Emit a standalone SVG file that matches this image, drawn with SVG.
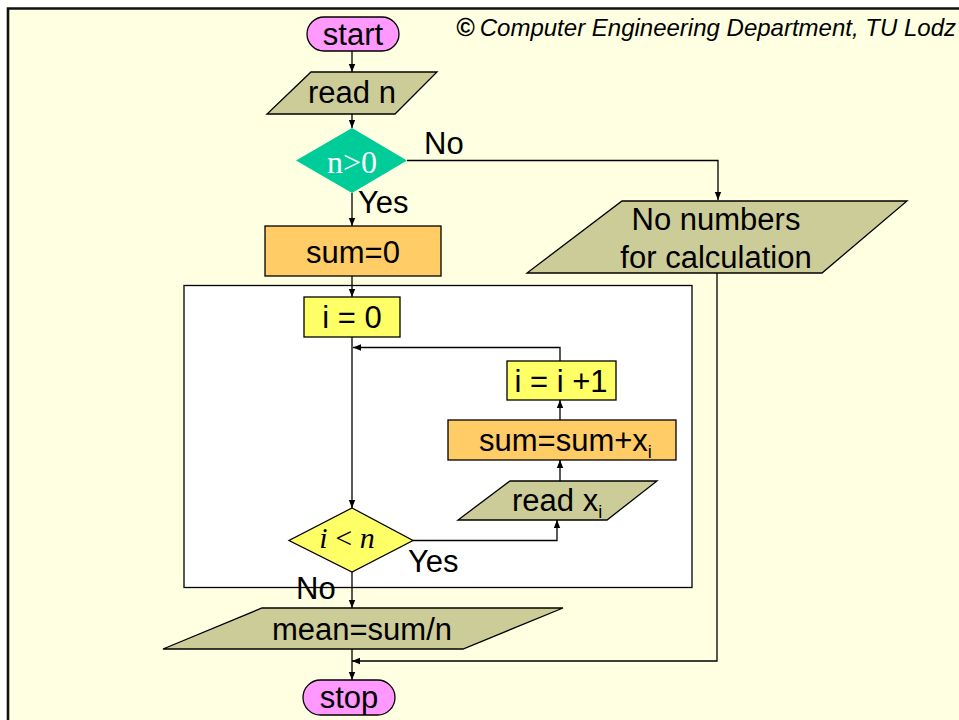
<svg xmlns="http://www.w3.org/2000/svg" width="959" height="720" viewBox="0 0 959 720">
  <defs>
    <marker id="arrow" markerUnits="userSpaceOnUse" markerWidth="9" markerHeight="8" refX="8" refY="4" orient="auto">
      <path d="M0,0.8 L8,4 L0,7.2 z" fill="#000"/>
    </marker>
    <style>
      .lbl { font-family: "Liberation Sans", Arial, sans-serif; font-size: 31px; fill: #000; }
      .mid { text-anchor: middle; }
      .math { font-family: "Liberation Serif", "Times New Roman", serif; }
      .io { fill: #CCCC99; stroke: #000; stroke-width: 1.3; }
      .proc { fill: #FFCC66; stroke: #000; stroke-width: 1.3; }
      .step { fill: #FFFF66; stroke: #000; stroke-width: 1.3; }
      .term { fill: #FF99FF; stroke: #000; stroke-width: 1.3; }
      .edge { fill: none; stroke: #000; stroke-width: 1.3; marker-end: url(#arrow); }
    </style>
  </defs>

  <!-- page background and frame -->
  <rect x="0" y="0" width="959" height="720" fill="#FFFFFF"/>
  <rect x="8" y="8.5" width="960" height="720" fill="#FFFFE1"/>
  <path d="M8,721 V8.5 H959" fill="none" stroke="#111" stroke-width="2.6"/>

  <!-- credit line -->
  <g id="credit">
    <text x="456" y="36" font-family="Liberation Sans, Arial, sans-serif" font-size="25" font-weight="bold" font-style="italic">©</text>
    <text x="956" y="36" text-anchor="end" font-family="Liberation Sans, Arial, sans-serif" font-size="24" font-style="italic">Computer Engineering Department, TU Lodz</text>
  </g>

  <!-- loop frame -->
  <g id="loop-frame">
    <rect x="184" y="285.5" width="508" height="302" fill="#FFFFFF" stroke="#000" stroke-width="1.3"/>
  </g>

  <!-- connectors -->
  <g id="connectors">
    <path class="edge" d="M352,51 V72"/>
    <path class="edge" d="M352,114 V128"/>
    <path class="edge" d="M352,193 V226"/>
    <path class="edge" d="M407,160.5 H718 V200"/>
    <path class="edge" d="M352,276 V297"/>
    <path class="edge" d="M352,337 V508"/>
    <path class="edge" d="M413,540.5 H557 V520"/>
    <path class="edge" d="M560,481 V460"/>
    <path class="edge" d="M560,420 V400"/>
    <path class="edge" d="M560,361 V347.5 H353"/>
    <path class="edge" d="M352,572 V608"/>
    <path class="edge" d="M352,649 V680"/>
    <path class="edge" d="M717,273 V661 H352"/>
  </g>

  <!-- nodes -->
  <g id="start">
    <rect class="term" x="307" y="17" width="92" height="34" rx="17" ry="17"/>
    <text class="lbl mid" x="353" y="45">start</text>
  </g>

  <g id="read-n">
    <polygon class="io" points="311,72 437,72 395,114 267,114"/>
    <text class="lbl mid" x="352" y="103">read n</text>
  </g>

  <g id="check-n">
    <polygon points="352,128 407,160.5 352,193 296,160.5" fill="#00CC99"/>
    <text class="math mid" x="352" y="173" font-size="32" fill="#FFFFFF">n&gt;0</text>
    <text class="lbl" x="424" y="154">No</text>
    <text class="lbl" x="358" y="213">Yes</text>
  </g>

  <g id="no-numbers">
    <polygon class="io" points="622,201 907,201 822,273 527,273"/>
    <text class="lbl mid" x="716" y="230">No numbers</text>
    <text class="lbl mid" x="716" y="268">for calculation</text>
  </g>

  <g id="sum-init">
    <rect class="proc" x="265" y="226" width="176" height="50"/>
    <text class="lbl mid" x="353" y="263">sum=0</text>
  </g>

  <g id="i-init">
    <rect class="step" x="304" y="297" width="96" height="40"/>
    <text class="lbl mid" x="352" y="328">i = 0</text>
  </g>

  <g id="i-inc">
    <rect class="step" x="507" y="361" width="109" height="39"/>
    <text class="lbl mid" x="561" y="392">i = i +1</text>
  </g>

  <g id="sum-add">
    <rect class="proc" x="448" y="420" width="228" height="40"/>
    <text class="lbl" x="479" y="451" font-size="29">sum=sum+x<tspan font-size="18" dy="7">i</tspan></text>
  </g>

  <g id="read-x">
    <polygon class="io" points="510,481 657,481 607,520 458,520"/>
    <text class="lbl" x="512" y="511">read x<tspan font-size="18" dy="7">i</tspan></text>
  </g>

  <g id="check-i">
    <polygon points="352,508 413,540.5 352,572 289,540.5" fill="#FFFF66" stroke="#000" stroke-width="1.3"/>
    <text class="math mid" x="347" y="548" font-size="30" font-style="italic">i <tspan font-style="normal">&lt;</tspan> n</text>
    <text class="lbl" x="408" y="572">Yes</text>
    <text class="lbl" x="296" y="599">No</text>
  </g>

  <g id="mean">
    <polygon class="io" points="262,608 563,608 463,649 163,649"/>
    <text class="lbl mid" x="362" y="640">mean=sum/n</text>
  </g>

  <g id="stop">
    <rect class="term" x="303" y="680" width="92" height="35" rx="17.5" ry="17.5"/>
    <text class="lbl mid" x="349" y="708">stop</text>
  </g>
</svg>
